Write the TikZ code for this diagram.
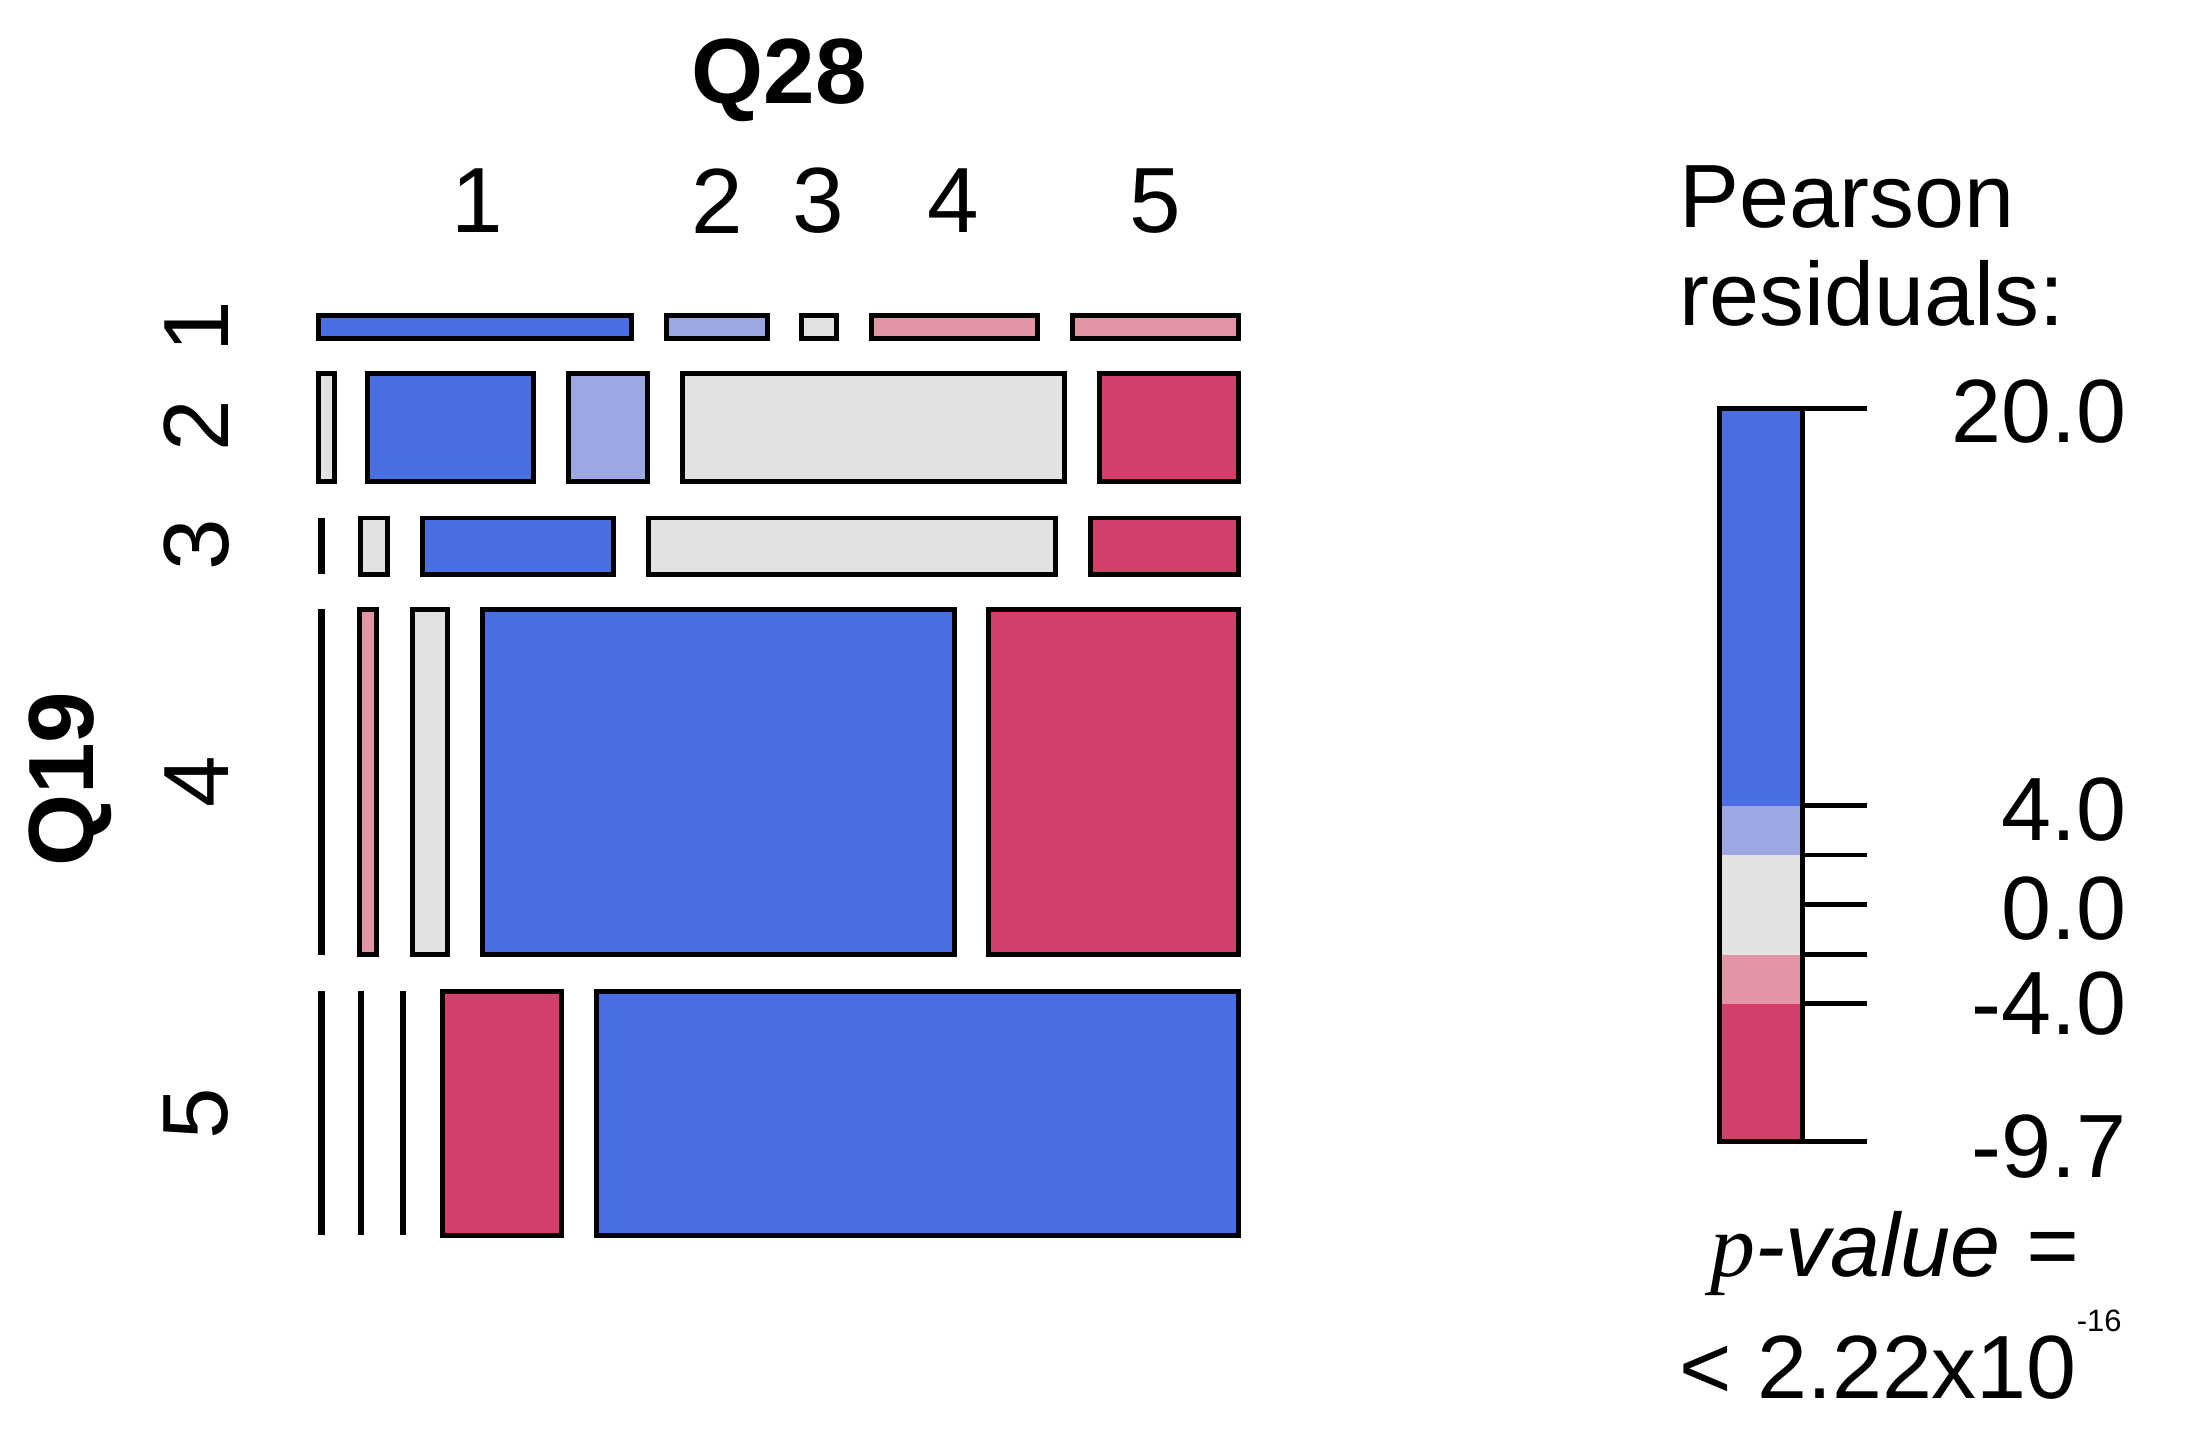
\documentclass[tikz,border=0pt]{standalone}
\usepackage{fontspec}
\setmainfont{Liberation Sans}
\begin{document}
\begin{tikzpicture}[x=1pt,y=-1pt,
  cell/.style={draw=black,line width=3.5pt},
  bl/.style={cell,fill={rgb,255:red,74;green,111;blue,227}},
  lb/.style={cell,fill={rgb,255:red,157;green,168;blue,226}},
  gr/.style={cell,fill={rgb,255:red,226;green,226;blue,226}},
  lp/.style={cell,fill={rgb,255:red,228;green,149;blue,165}},
  rd/.style={cell,fill={rgb,255:red,211;green,63;blue,106}},
  ln/.style={draw=black,line width=4.5pt},
  big/.style={font=\fontsize{66}{78}\selectfont},
  leg/.style={font=\fontsize{64}{70}\selectfont}]
\useasboundingbox (0,0) rectangle (1560,1026);
% row 1
\draw[bl] (227,225) rectangle (450,241);
\draw[lb] (475,225) rectangle (547,241);
\draw[gr] (571,225) rectangle (596,241);
\draw[lp] (621,225) rectangle (739,241);
\draw[lp] (764,225) rectangle (882,241);
% row 2
\draw[gr] (227,266) rectangle (238,343);
\draw[bl] (262,266) rectangle (380,343);
\draw[lb] (405,266) rectangle (461,343);
\draw[gr] (486,266) rectangle (758,343);
\draw[rd] (783,266) rectangle (882,343);
% row 3
\draw[ln] (229,369) -- (229,409);
\draw[gr] (257,369) rectangle (276,409);
\draw[bl] (301,369) rectangle (437,409);
\draw[gr] (462,369) rectangle (752,409);
\draw[rd] (777,369) rectangle (882,409);
% row 4
\draw[ln] (229,434) -- (229,680);
\draw[lp] (256,434) rectangle (268,680);
\draw[gr] (294,434) rectangle (319,680);
\draw[bl] (344,434) rectangle (680,680);
\draw[rd] (704,434) rectangle (882,680);
% row 5
\draw[ln] (229,706) -- (229,880);
\draw[ln] (257,706) -- (257,880);
\draw[ln] (287,706) -- (287,880);
\draw[rd] (315,706) rectangle (400,880);
\draw[bl] (425,706) rectangle (882,880);
% labels
\node[big,font=\fontsize{66}{78}\selectfont\bfseries] (q28) at (555,57) {Q28};
\node[big] (c1) at (340,143) {1};
\node[big] (c2) at (511,143) {2};
\node[big] (c3) at (583,143) {3};
\node[big] (c4) at (679,143) {4};
\node[big] (c5) at (823,143) {5};
\node[big,rotate=90] (r1) at (140,233) {1};
\node[big,rotate=90] (r2) at (140,303) {2};
\node[big,rotate=90] (r3) at (140,388) {3};
\node[big,rotate=90] (r4) at (140,557) {4};
\node[big,rotate=90] (r5) at (140,793) {5};
\node[big,rotate=90,font=\fontsize{66}{78}\selectfont\bfseries] (q19) at (50,555) {Q19};
% legend
\node[leg,anchor=west,align=left] (pr) at (1193,175) {Pearson\\residuals:};
\fill[fill={rgb,255:red,74;green,111;blue,227}] (1225,291) rectangle (1284,574);
\fill[fill={rgb,255:red,157;green,168;blue,226}] (1225,574) rectangle (1284,609);
\fill[fill={rgb,255:red,226;green,226;blue,226}] (1225,609) rectangle (1284,680);
\fill[fill={rgb,255:red,228;green,149;blue,165}] (1225,680) rectangle (1284,715);
\fill[fill={rgb,255:red,211;green,63;blue,106}] (1225,715) rectangle (1284,813);
\draw[line width=3.5pt] (1225,291) rectangle (1284,813);
\foreach \yy in {291,574,609,644,680,715,813} \draw[line width=3.5pt] (1284,\yy) -- (1330,\yy);
\node[leg,anchor=east] (t1) at (1518,293) {20.0};
\node[leg,anchor=east] (t2) at (1518,577) {4.0};
\node[leg,anchor=east] (t3) at (1518,647) {0.0};
\node[leg,anchor=east] (t4) at (1518,715) {-4.0};
\node[leg,anchor=east] (t5) at (1518,817) {-9.7};
\node[leg,anchor=west] (pv) at (1215,893) {\fontspec{Liberation Serif}\itshape p\fontspec{Liberation Sans}-value =};
\node[leg,anchor=west] (pv2) at (1193,965) {< 2.22x10\raisebox{0.75em}{\fontsize{22}{24}\selectfont -16}};
\end{tikzpicture}
\end{document}
